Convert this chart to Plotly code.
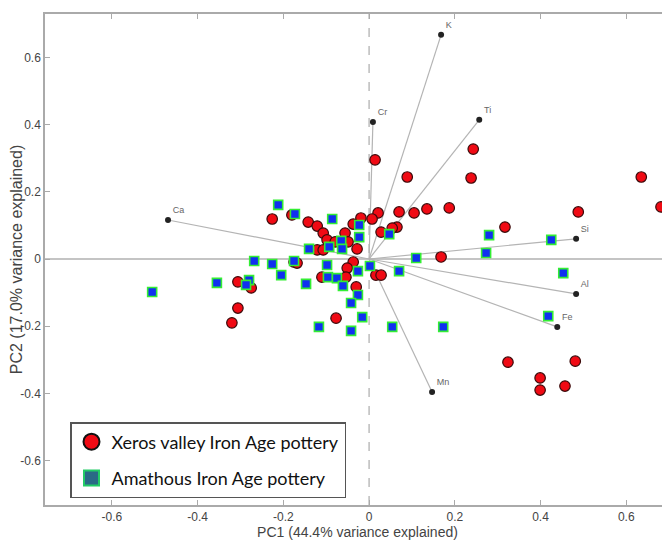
import plotly.graph_objects as go

# Xeros valley Iron Age pottery (PC1, PC2 scores)
xeros_pc1 = [0.014, 0.089, 0.243, 0.238, 0.635, 0.681, 0.488, 0.317, 0.168, 0.187,
             0.135, 0.105, 0.070, 0.021, 0.007, -0.019, 0.065, 0.054, 0.028, 0.016,
             0.028, 0.324, 0.481, 0.399, 0.399, 0.457, -0.077, -0.226, -0.180, -0.142,
             -0.121, -0.107, -0.098, -0.079, -0.056, -0.049, -0.037, -0.121, -0.107, -0.028,
             -0.037, -0.051, -0.054, -0.110, -0.030, -0.175, -0.168, -0.306, -0.275, -0.306,
             -0.320]
xeros_pc2 = [0.295, 0.244, 0.327, 0.241, 0.244, 0.155, 0.140, 0.095, 0.006, 0.152,
             0.149, 0.137, 0.140, 0.137, 0.119, 0.122, 0.095, 0.092, 0.080, -0.048,
             -0.048, -0.307, -0.304, -0.354, -0.390, -0.378, -0.176, 0.119, 0.131, 0.110,
             0.098, 0.077, 0.057, 0.051, 0.077, 0.051, 0.104, 0.027, 0.027, 0.030,
             -0.009, -0.027, -0.054, -0.054, -0.083, -0.009, -0.012, -0.068, -0.086, -0.146,
             -0.190]

# Amathous Iron Age pottery (PC1, PC2 scores)
amath_pc1 = [-0.212, -0.173, -0.086, -0.023, -0.023, 0.047, 0.280, 0.273, 0.425, 0.453,
             0.418, 0.110, 0.070, 0.002, -0.026, -0.140, -0.093, -0.065, -0.063, -0.098,
             -0.096, -0.075, -0.061, -0.026, -0.042, -0.016, -0.117, -0.042, 0.054, 0.173,
             -0.175, -0.147, -0.205, -0.226, -0.268, -0.280, -0.287, -0.355, -0.506]
amath_pc2 = [0.161, 0.134, 0.119, 0.101, 0.065, 0.074, 0.071, 0.018, 0.057, -0.042,
             -0.170, 0.003, -0.036, -0.021, -0.036, 0.030, 0.036, 0.054, 0.030, -0.018,
             -0.054, -0.057, -0.080, -0.107, -0.131, -0.173, -0.202, -0.214, -0.202, -0.202,
             -0.006, -0.074, -0.048, -0.015, -0.006, -0.063, -0.077, -0.071, -0.098]

# Element loadings
elements = ["K", "Cr", "Ti", "Ca", "Si", "Al", "Fe", "Mn"]
load_pc1 = [0.168, 0.009, 0.257, -0.469, 0.483, 0.483, 0.439, 0.147]
load_pc2 = [0.667, 0.408, 0.414, 0.116, 0.060, -0.104, -0.202, -0.396]

x_ticks = [-0.6, -0.4, -0.2, 0, 0.2, 0.4, 0.6]
y_ticks = [-0.6, -0.4, -0.2, 0, 0.2, 0.4, 0.6]

fig = go.Figure()

# vectors from origin
vx, vy = [], []
for a, b in zip(load_pc1, load_pc2):
    vx += [0, a, None]
    vy += [0, b, None]
fig.add_trace(go.Scatter(x=vx, y=vy, mode="lines",
                         line=dict(color="#b4b4b4", width=1.2),
                         showlegend=False, hoverinfo="skip"))

fig.add_trace(go.Scatter(x=xeros_pc1, y=xeros_pc2, mode="markers",
                         marker=dict(symbol="circle", size=10.5, color="#f00a14",
                                     line=dict(color="#3a0a0a", width=1.2)),
                         showlegend=False, name="Xeros valley Iron Age pottery"))
fig.add_trace(go.Scatter(x=amath_pc1, y=amath_pc2, mode="markers",
                         marker=dict(symbol="square", size=9, color="#1030f0",
                                     line=dict(color="#33ee33", width=1.6)),
                         showlegend=False, name="Amathous Iron Age pottery"))

fig.add_trace(go.Scatter(x=load_pc1, y=load_pc2, mode="markers+text",
                         text=elements, textposition="top right",
                         textfont=dict(size=9, color="#666666", family="Liberation Sans"),
                         marker=dict(size=6, color="#222222"),
                         showlegend=False, hoverinfo="skip"))

# legend entries
fig.add_trace(go.Scatter(x=[None], y=[None], mode="markers",
                         name="Xeros valley Iron Age pottery", legendgroup="a",
                         marker=dict(symbol="circle", size=16, color="#f00a14",
                                     line=dict(color="#111111", width=2))))
fig.add_trace(go.Scatter(x=[None], y=[None], mode="markers",
                         name="Amathous Iron Age pottery", legendgroup="b",
                         marker=dict(symbol="square", size=15, color="#2a6a86",
                                     line=dict(color="#22cc66", width=2))))

fig.add_shape(type="line", xref="x", yref="paper", x0=0, x1=0, y0=0, y1=1,
              line=dict(color="#9a9a9a", width=1, dash="dash"), layer="below")

fig.update_layout(
    width=662, height=544,
    margin=dict(l=37, r=0, t=6, b=47),
    paper_bgcolor="white", plot_bgcolor="white",
    font=dict(family="Liberation Sans", color="#444444"),
    legend=dict(x=0.04, y=0.169, xanchor="left", yanchor="top",
                bgcolor="white", bordercolor="#555555", borderwidth=1.5,
                font=dict(family="Lato", size=18, color="#111111"),
                itemsizing="trace", tracegroupgap=10, itemwidth=30),
    xaxis=dict(range=[-0.756, 0.702], tickvals=x_ticks, automargin=False,
               ticktext=[str(v) if v != 0 else "0" for v in x_ticks],
               showgrid=False, zeroline=False, showline=True, linecolor="#aaaaaa",
               linewidth=1.5, mirror="ticks", ticks="inside", ticklen=5,
               tickcolor="#aaaaaa", tickfont=dict(size=12, color="#444444"),
               title=dict(text="PC1 (44.4% variance explained)",
                          font=dict(size=14, color="#444444"), standoff=4)),
    yaxis=dict(range=[-0.732, 0.729], tickvals=y_ticks, automargin=False,
               ticktext=[str(v) if v != 0 else "0" for v in y_ticks],
               showgrid=False, zeroline=True, zerolinecolor="#c4c4c4", zerolinewidth=2,
               showline=True, linecolor="#aaaaaa", linewidth=1.5, mirror="ticks",
               ticks="inside", ticklen=5, tickcolor="#aaaaaa",
               tickfont=dict(size=12, color="#444444"),
               title=dict(text="PC2 (17.0% variance explained)",
                          font=dict(size=16, color="#444444"), standoff=2)),
)

fig.write_html("out.html")
